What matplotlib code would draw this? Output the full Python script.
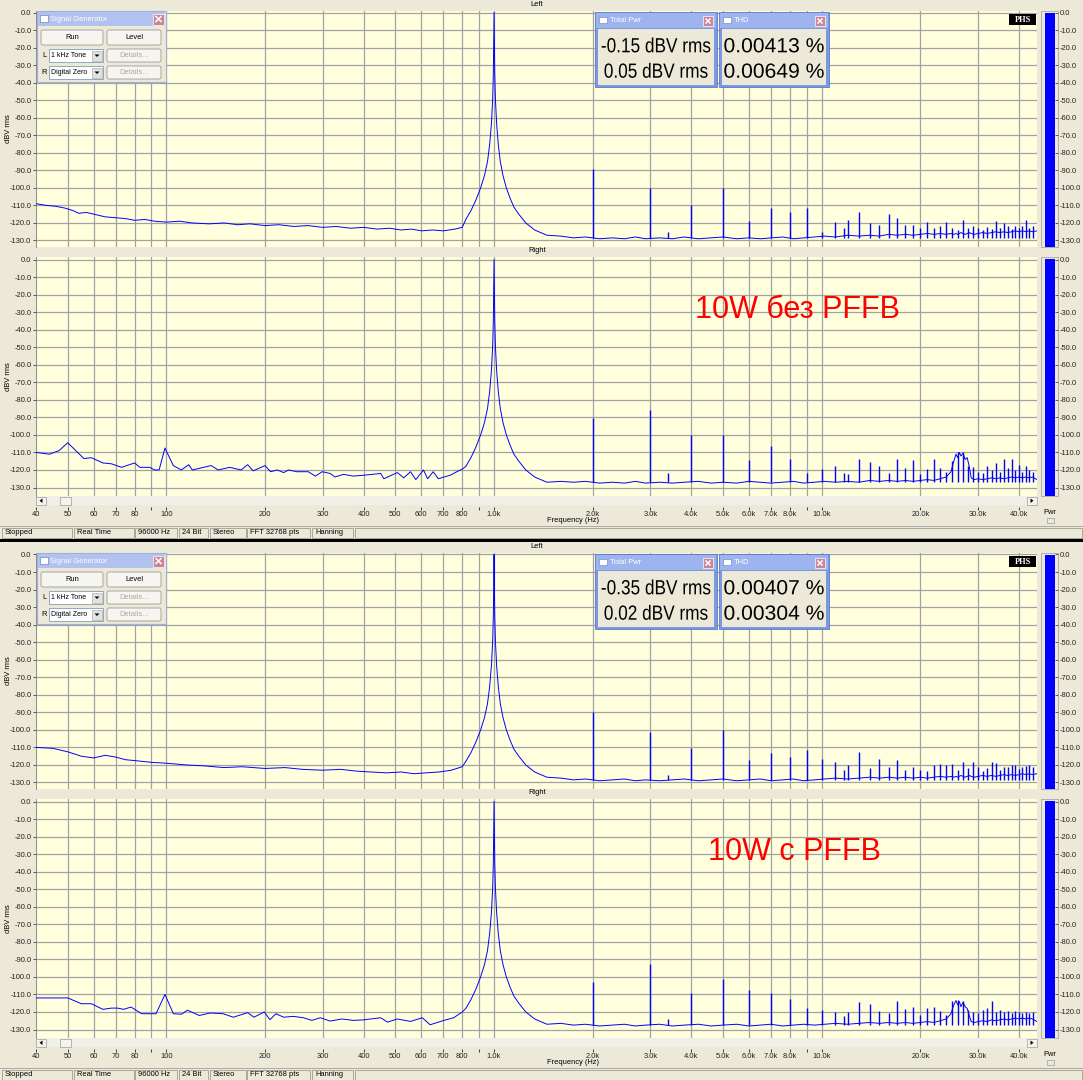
import numpy as np
import matplotlib
matplotlib.use("Agg")
import matplotlib.pyplot as plt
from matplotlib.patches import Rectangle, FancyBboxPatch, Polygon, PathPatch
from matplotlib.textpath import TextPath
from matplotlib.font_manager import FontProperties
from matplotlib.transforms import Affine2D

plt.rcParams["font.family"] = ["Liberation Sans", "DejaVu Sans"]

# ---- axis setup ---------------------------------------
F_MIN, F_MAX = 40, 45400
DB_TICKS = list(range(0, -131, -10))
GRID_F = [50, 60, 70, 80, 90, 100, 200, 300, 400, 500, 600, 700, 800, 900,
          1000, 2000, 3000, 4000, 5000, 6000, 7000, 8000, 9000, 10000, 20000, 30000, 40000]
TICK_F = [40, 50, 60, 70, 80, 90, 100, 200, 300, 400, 500, 600, 700, 800, 900,
          1000, 2000, 3000, 4000, 5000, 6000, 7000, 8000, 9000, 10000, 20000, 30000, 40000]
TICK_LBL = ["40", "50", "60", "70", "80", "", "100", "200", "300", "400", "500", "600", "700", "800", "",
            "1.0k", "2.0k", "3.0k", "4.0k", "5.0k", "6.0k", "7.0k", "8.0k", "", "10.0k", "20.0k", "30.0k", "40.0k"]

# ---- 1 kHz tone skirt (same window shape in every pane) ---------------------
SKIRT_F = [820, 850, 880, 910, 935, 955, 970, 982, 990, 995, 998, 1000, 1002, 1005, 1010, 1018,
           1030, 1045, 1065, 1090, 1120, 1150, 1190, 1250, 1330, 1450]
SKIRT_DB = [-118, -113, -107, -100, -93, -85, -75, -63, -50, -35, -16, 0, -16, -35, -50, -63,
            -75, -85, -93, -100, -106, -111, -115, -120, -124, -127]

# ---- noise floor above the tone (shared frequency grid) ---------------------
HF_F = [1600, 1750, 1900, 2100, 2300, 2500, 2700, 2900,
        3200, 3500, 3800, 4200, 4600, 5000,
        5500, 6000, 6500, 7000, 7600, 8200, 8800, 9500,
        10200, 11000, 12000, 13000, 14000, 15000, 16000, 17000, 18000, 19000, 20000, 21000, 22000, 23000, 24000,
        24800, 25300, 25700, 26000, 26300, 26600, 27000, 27400, 27800, 28200, 28600,
        29200, 30000, 31000, 32000, 33000, 34000, 35000, 36000, 37000, 38000, 39000, 40000, 41000, 42000, 43000, 44000, 45400]

# ---- harmonics / spurs (shared frequency grid) ------------------------------
HARM_F = [2000, 3000, 3400, 4000, 5000, 6000, 7000, 8000, 9000, 10000,
          11000, 11700, 12000, 13000, 14000, 15000, 16000, 17000, 18000, 19000,
          20000, 21000, 22000, 23000, 24000, 25000, 26000, 27000, 28000, 29000,
          30000, 31000, 32000, 33000, 34000, 35000, 36000, 37000, 38000, 39000,
          40000, 41000, 42000, 43000, 44000]

# ---- top screenshot: 10W без PFFB, Left channel ------------------------------
L1_LO_F = [40, 43, 46, 49, 52, 54, 57, 60, 65, 70, 75, 80, 86, 92, 100, 110, 120, 135, 150, 165,
           180, 200, 220, 245, 270, 300, 330, 365, 400, 440, 480, 520, 560, 600, 650, 700, 760, 800]
L1_LO_DB = [-109, -110, -110.5, -111.5, -113, -114.5, -114, -115, -116.5, -117, -117.5, -118.5, -118, -119,
            -119.5, -119, -120, -120.5, -120, -121, -120.5, -121.5, -121, -122, -121.5, -122.5, -122, -123,
            -122.5, -123.5, -123, -124, -123.5, -124.5, -124, -124.5, -123.5, -122.5]
L1_HF_DB = [-127.5, -128.5, -128, -129, -128.5, -129, -128, -129,
            -128.5, -129, -128, -129, -128.5, -128,
            -129, -128.5, -129, -128.5, -128, -129, -128.5, -128,
            -127.5, -128, -127, -127.5, -127, -127.5, -126.5, -127, -126.5, -127, -126.5, -126, -126.5, -126, -126.5,
            -126, -126.5, -126, -126.5, -126, -125.5, -126, -126.5, -126, -125.5, -126,
            -126.5, -126, -125.5, -126, -125.5, -125, -125.5, -125, -125.5, -125, -124.5, -125, -124.5, -125, -124.5, -125, -124.5]
L1_H_DB = [-89.5, -100, -125, -110, -100, -119, -111.5, -113.5, -111.5, -125,
           -119.5, -123, -118.5, -114, -120, -121, -115, -117, -121, -121,
           -123, -119.5, -123, -122, -119.5, -123, -124, -118.5, -123, -121.5,
           -123, -124, -122.5, -123.5, -119, -123, -120, -122, -123.5, -122,
           -123, -122, -118.5, -123, -122]

# ---- top screenshot: Right channel -------------------------------------------
R1_LO_F = [40, 44, 47, 50, 56, 59, 64, 68, 73, 80, 83, 89, 92, 95, 99, 105, 111, 117, 120, 130,
           137, 144, 156, 169, 177, 184, 200, 208, 218, 228, 236, 250, 271, 285, 299, 316, 327, 347,
           372, 400, 451, 461, 507, 530, 556, 577, 609, 627, 652, 676, 735, 770, 800]
R1_LO_DB = [-110, -111, -109, -104.5, -113.5, -113, -116, -116.5, -118.5, -116, -118.5, -118.5, -120, -120,
            -107.5, -117.5, -120, -117, -120, -118.5, -117.5, -120, -118.5, -120, -117, -120.5, -117.5, -121,
            -120, -121.5, -120, -121, -121, -123.5, -121, -122, -124, -122.5, -123.5, -123, -122, -125,
            -121.5, -124.5, -121, -125.5, -120, -125, -121, -125, -123, -121, -119.5]
R1_HF_DB = [-126.5, -127, -126.5, -127.5, -127, -127.5, -126.5, -127.5,
            -127, -127.5, -127, -126.5, -127.5, -127,
            -127.5, -126.5, -127, -127.5, -127, -126.5, -127.5, -127,
            -126.5, -127, -126.5, -127, -126, -126.5, -126, -126.5, -126, -126.5, -126, -125.5, -126, -125, -124,
            -121, -115, -111, -113, -110, -112, -110.5, -114, -113, -118, -124.5,
            -125.5, -125, -125.5, -125, -124.5, -125, -124.5, -125, -124.5, -124, -124.5, -124, -124.5, -124, -124.5, -124, -125.5]
R1_H_DB = [-90.5, -86, -122, -100, -100, -114.5, -106.5, -114, -121.5, -119.5,
           -117.5, -121.5, -122.5, -113.5, -115.5, -118, -122, -113.5, -119, -114.5,
           -122.5, -119.5, -114, -119, -121, -115, -110, -110, -118, -118.5,
           -121, -122, -117.5, -120, -116, -121, -114, -119, -114, -120,
           -117, -121, -118, -120, -121]

# ---- bottom screenshot: 10W с PFFB, Left channel -----------------------------
L2_LO_F = [40, 45, 50, 55, 60, 65, 70, 75, 80, 90, 100, 115, 130, 150, 170, 200, 230, 260, 300, 340,
           380, 420, 470, 520, 570, 620, 680, 740, 800]
L2_LO_DB = [-110, -110.5, -112.5, -115, -116, -114.5, -115.5, -117, -117.5, -118.5, -119, -120, -120.5,
            -121.5, -121, -122, -121.5, -122.5, -123, -122.5, -123.5, -124, -124.5, -124, -125, -124.5,
            -124, -123, -121]
L2_HF_DB = [-127.5, -128.5, -128, -129, -128.5, -128, -129, -128.5,
            -129, -128.5, -128, -129, -128.5, -128,
            -129, -128.5, -128, -129, -128.5, -128, -129, -128.5,
            -128, -127.5, -128, -127.5, -127, -127.5, -127, -127.5, -127, -127.5, -127, -127.5, -127, -126.5, -127,
            -126.5, -127, -126.5, -127, -126.5, -126, -126.5, -127, -126.5, -126, -126.5,
            -127, -126.5, -126, -126.5, -126, -126.5, -126, -125.5, -126, -125.5, -126, -125.5, -125, -125.5, -125, -125.5, -125]
L2_H_DB = [-90, -101, -126, -110.5, -100, -117, -113, -115.5, -111.5, -116.5,
           -118.5, -123, -120, -112.5, -121.5, -116.5, -121, -117, -123, -121,
           -123, -123.5, -120, -119.5, -120, -119.5, -123, -118.5, -121.5, -118.5,
           -121, -123.5, -121.5, -118.5, -119, -123, -121, -121, -120, -120,
           -122.5, -121, -120.5, -120, -121]

# ---- bottom screenshot: Right channel ----------------------------------------
R2_LO_F = [40, 50, 55, 59, 64, 68, 71, 74, 78, 84, 93, 99, 105, 111, 116, 126, 136, 149, 160, 177,
           185, 199, 207, 216, 228, 244, 262, 278, 295, 316, 343, 372, 400, 451, 473, 507, 556, 604,
           638, 703, 753, 800]
R2_LO_DB = [-112, -112, -115.3, -115.3, -118.5, -117.8, -117.8, -118.5, -117.2, -121, -121, -110, -121,
            -121.3, -119, -122, -120.6, -121, -123, -120.4, -123, -120, -124.4, -121, -123, -122.5, -123.3,
            -124.8, -123.3, -125.2, -124, -124.8, -124.5, -123.3, -125.8, -124, -125.4, -123.3, -127.3,
            -124.8, -123.3, -120]
R2_HF_DB = [-126.5, -127.5, -127, -128, -127.5, -127, -128, -127.5,
            -127, -128, -127.5, -127, -128, -127.5,
            -127, -128, -127.5, -127, -128, -127.5, -127, -127.5,
            -127, -126.5, -127, -126.5, -126, -126.5, -126, -126.5, -126, -126.5, -126, -125.5, -126, -125, -124,
            -121, -116, -113.5, -116, -114, -117, -114.5, -117, -118, -122, -125.5,
            -126, -125.5, -125, -125.5, -124.5, -125, -124.5, -124, -124.5, -124, -123.5, -124, -123.5, -124, -123.5, -124, -125.5]
R2_H_DB = [-103, -92.5, -124, -109, -101, -107.5, -109, -112.5, -117.5, -119,
           -120, -122.5, -120, -114.5, -115.5, -119.5, -120.5, -114, -118.5, -117,
           -121.5, -117.5, -117, -119.5, -121.5, -114, -113, -114, -119, -120,
           -120.5, -119, -118, -114, -120, -119, -120, -119.5, -120.5, -119.5,
           -120, -120.5, -120, -120.5, -120]

# ---- readouts ----------------------------------------------------------------
PWR_TOP = ["-0.15 dBV rms", "0.05 dBV rms"]
THD_TOP = ["0.00413 %", "0.00649 %"]
PWR_BOT = ["-0.35 dBV rms", "0.02 dBV rms"]
THD_BOT = ["0.00407 %", "0.00304 %"]
METER_TOP = [-0.15, 0.05]
METER_BOT = [-0.35, 0.02]
STATUS_TXT = ["Stopped", "Real Time", "96000 Hz", "24 Bit", "Stereo", "FFT 32768 pts", "Hanning", ""]

# ---- look ---------------------------------------------------------------------
W, H = 1083, 1080
BG = "#ECE9D8"
PLOT_BG = "#FFFFDD"
GRID = "#A2A2A2"
TRACE = "#0000FF"
FS = 5.4
STATUS_X = [(2, 72), (74, 134), (135, 177), (179, 208), (210, 246), (247, 310), (312, 353), (355, 1082)]
BIG_FONT = FontProperties(family="Liberation Sans")

fig = plt.figure(figsize=(W / 100, H / 100), dpi=100, facecolor=BG)


def px(x, y, w, h):
    return [x / W, 1 - (y + h) / H, w / W, h / H]


def canvas(z):
    a = fig.add_axes([0, 0, 1, 1], zorder=z)
    a.set_xlim(0, W); a.set_ylim(H, 0); a.axis("off")
    return a


ui = canvas(0)
top = canvas(20)


def box(ax, x, y, w, h, fc, ec="none", lw=0.6, z=1):
    ax.add_patch(Rectangle((x, y), w, h, facecolor=fc, edgecolor=ec, linewidth=lw, zorder=z))


def button(ax, x, y, w, h, text, color="black"):
    ax.add_patch(FancyBboxPatch((x, y), w, h, boxstyle="round,pad=0,rounding_size=2",
                                fc="#F6F5F0", ec="#8A8A8A", lw=0.5, zorder=3))
    ax.text(x + w / 2, y + h / 2, text, fontsize=FS, color=color, ha="center", va="center", zorder=4)


def close_btn(ax, x, y, s):
    box(ax, x, y, s, s, "#CC8596", "white", 0.5, z=4)
    ax.plot([x + 3, x + s - 3], [y + 3, y + s - 3], color="white", lw=1.1, zorder=5)
    ax.plot([x + 3, x + s - 3], [y + s - 3, y + 3], color="white", lw=1.1, zorder=5)


def big_text(ax, cx, base_y, s, sx):
    # readout digits: squeezed horizontally like the analyser's own font
    tp = TextPath((0, 0), s, size=20.5, prop=BIG_FONT)
    ext = tp.get_extents()
    tr = Affine2D().translate(-ext.x0 - ext.width / 2, 0).scale(sx, -1).translate(cx, base_y)
    ax.add_patch(PathPatch(tr.transform_path(tp), fc="black", ec="none", zorder=4))


def panel(y_top, y0db, y130, y_bot, lo_f, lo_db, hf_db, h_db, base, level, name):
    k = (y130 - y0db) / 130
    ylim = (-130 - (y_bot - y130) / k, (y0db - y_top) / k)
    ax = fig.add_axes(px(36, y_top, 1001, y_bot - y_top), zorder=2)
    ax.set_facecolor(PLOT_BG)
    ax.set_xscale("log")
    ax.set_xlim(F_MIN, F_MAX); ax.set_ylim(*ylim)
    for f in GRID_F:
        ax.axvline(f, color=GRID, lw=0.9, zorder=1)
    for d in DB_TICKS:
        ax.axhline(d, color=GRID, lw=0.9, zorder=1)
    f = np.concatenate([lo_f, SKIRT_F, HF_F])
    d = np.concatenate([lo_db, SKIRT_DB, hf_db])
    ax.plot(f, d, color=TRACE, lw=0.7, zorder=3)
    ax.vlines(HARM_F, base, h_db, color=TRACE, lw=1.0, zorder=3)
    ax.set_xticks([]); ax.set_xticks([], minor=True)
    ax.set_yticks(DB_TICKS); ax.set_yticklabels([f"{v:.1f}" for v in DB_TICKS])
    ax.tick_params(axis="y", labelsize=FS, length=2.5, width=0.5, pad=0.8, colors="#222222")
    for s in ("top", "right", "bottom"):
        ax.spines[s].set_visible(False)
    ax.spines["left"].set_color("#7A7A7A"); ax.spines["left"].set_linewidth(0.6)
    ui.text(8, (y_top + y_bot) / 2, "dBV rms", rotation=90, fontsize=FS, ha="center", va="center")
    ui.text(537, y_top - 6, name, fontsize=FS, ha="center", va="center")

    # power meter
    box(ui, 1041, y_top, 17, y_bot - y_top, BG, "#A5A5A5", 0.6)
    m = fig.add_axes(px(1045, y_top, 10, y_bot - y_top), zorder=2)
    m.set_ylim(*ylim); m.set_xlim(0, 1)
    m.bar([0.5], [level - ylim[0]], bottom=ylim[0], width=1.0, color=TRACE)
    m.patch.set_alpha(0)
    m.yaxis.tick_right()
    m.set_yticks(DB_TICKS); m.set_yticklabels([f"{v:.1f}" for v in DB_TICKS])
    m.set_xticks([])
    m.tick_params(axis="y", labelsize=FS, length=2.5, width=0.5, pad=1, colors="#222222")
    for s in m.spines.values():
        s.set_visible(False)


def sig_gen(ax, y0):
    box(ax, 37, y0 + 11, 129, 71, BG, "#9DB0E0", 0.8, z=2)
    box(ax, 38, y0 + 12, 127, 14, "#B2C2EE", z=3)
    box(ax, 40, y0 + 15, 8, 7, "white", "#5070B0", 0.4, z=4)
    ax.text(50, y0 + 19.5, "Signal Generator", fontsize=FS, color="white", va="center", zorder=4)
    close_btn(ax, 153, y0 + 13.5, 11)
    button(ax, 41, y0 + 30, 62, 15, "Run")
    button(ax, 107, y0 + 30, 54, 15, "Level")
    for row, (lab, opt) in enumerate([("L", "1 kHz Tone"), ("R", "Digital Zero")]):
        yy = y0 + 49 + 17 * row
        ax.text(44, yy + 6.5, lab, fontsize=FS, ha="center", va="center", zorder=4)
        box(ax, 49, yy, 54, 13, "white", "#7F9DB9", 0.6, z=3)
        ax.text(51, yy + 6.5, opt, fontsize=5.0, va="center", zorder=4)
        box(ax, 92, yy + 1.5, 10, 10, "#E4E2DA", "#A0A0A0", 0.4, z=4)
        ax.add_patch(Polygon([[94.5, yy + 5.5], [99.5, yy + 5.5], [97, yy + 8]], closed=True,
                             fc="black", zorder=5))
        button(ax, 107, yy, 54, 13, "Details...", color="#ACA899")


def readout(ax, x, w, y0, title, lines, sx):
    box(ax, x, y0 + 12, w, 75, "#7D98E2", "#5A78D0", 0.6, z=2)
    box(ax, x + 1, y0 + 13, w - 2, 15, "#9DB4EE", z=3)
    box(ax, x + 3, y0 + 28.5, w - 6, 56.5, BG, z=3)
    box(ax, x + 4, y0 + 17, 8, 6, "white", "#6080C0", 0.4, z=4)
    ax.text(x + 15, y0 + 20.5, title, fontsize=FS, color="white", va="center", zorder=4)
    close_btn(ax, x + w - 14, y0 + 16, 10)
    for i, t in enumerate(lines):
        big_text(ax, x + w / 2, y0 + 52.3 + 25.4 * i, t, sx)


def half(y0, panes, pwr, thd, meter, label, label_x):
    geo = [(y0 + 11, y0 + 12.5, y0 + 240.5, y0 + 247), (y0 + 257, y0 + 259.5, y0 + 487.5, y0 + 495.5)]
    for g, p, lv, nm in zip(geo, panes, meter, ("Left", "Right")):
        panel(*g, *p, lv, nm)

    # scroll bar
    box(ui, 36, y0 + 496, 1001, 9, "#F0EFE8")
    box(ui, 36, y0 + 496.5, 10, 8.5, "#F4F3EE", "#9A9A9A", 0.5, z=2)
    box(ui, 60, y0 + 496.5, 11, 8.5, "#F4F3EE", "#9A9A9A", 0.5, z=2)
    box(ui, 1027, y0 + 496.5, 10, 8.5, "#F4F3EE", "#9A9A9A", 0.5, z=2)
    ui.add_patch(Polygon([[39.5, y0 + 500.7], [42.5, y0 + 498.5], [42.5, y0 + 503]], fc="black", zorder=3))
    ui.add_patch(Polygon([[1033.5, y0 + 500.7], [1030.5, y0 + 498.5], [1030.5, y0 + 503]], fc="black", zorder=3))

    # frequency axis under the scroll bar
    fa = fig.add_axes(px(36, y0 + 506, 1001, 0.5), zorder=2)
    fa.set_xscale("log"); fa.set_xlim(F_MIN, F_MAX)
    fa.set_xticks(TICK_F); fa.set_xticklabels(TICK_LBL); fa.set_xticks([], minor=True)
    fa.set_yticks([]); fa.patch.set_alpha(0)
    for s in fa.spines.values():
        s.set_visible(False)
    fa.tick_params(axis="x", length=2, width=0.6, labelsize=FS, pad=1, colors="#222222")
    ui.text(547, y0 + 520, "Frequency (Hz)", fontsize=FS, va="center")
    ui.text(1050, y0 + 513, "Pwr", fontsize=FS, ha="center", va="center")
    box(ui, 1047, y0 + 518, 7, 5, BG, "#9A9A9A", 0.5)

    # status bar
    ui.plot([0, W], [y0 + 526, y0 + 526], color="#A0A0A0", lw=0.6)
    for (a, b), t in zip(STATUS_X, STATUS_TXT):
        box(ui, a, y0 + 528, b - a, 10, BG, "#9D9D92", 0.6)
        ui.text(a + 3, y0 + 533, t, fontsize=FS, va="center")

    sig_gen(top, y0)
    readout(top, 595, 122, y0, "Total Pwr", pwr, 0.84)
    readout(top, 719, 110, y0, "THD", thd, 1.03)
    box(top, 1009, y0 + 14, 27, 11, "black", z=3)
    top.text(1022.5, y0 + 19.8, "PHS", fontsize=6, color="white", family="Liberation Serif",
             fontweight="bold", ha="center", va="center", zorder=4)
    top.text(label_x, y0 + 310, label, color="#FF0000", fontsize=22, ha="left", va="center", zorder=4)


half(0, [(L1_LO_F, L1_LO_DB, L1_HF_DB, L1_H_DB, -128.5), (R1_LO_F, R1_LO_DB, R1_HF_DB, R1_H_DB, -127)],
     PWR_TOP, THD_TOP, METER_TOP, "10W без PFFB", 695)
box(ui, 0, 538.5, W, 3.5, "black", z=3)
half(542, [(L2_LO_F, L2_LO_DB, L2_HF_DB, L2_H_DB, -128.5), (R2_LO_F, R2_LO_DB, R2_HF_DB, R2_H_DB, -127.5)],
     PWR_BOT, THD_BOT, METER_BOT, "10W с PFFB", 708)

fig.savefig("out.png", dpi=100, facecolor=BG)
